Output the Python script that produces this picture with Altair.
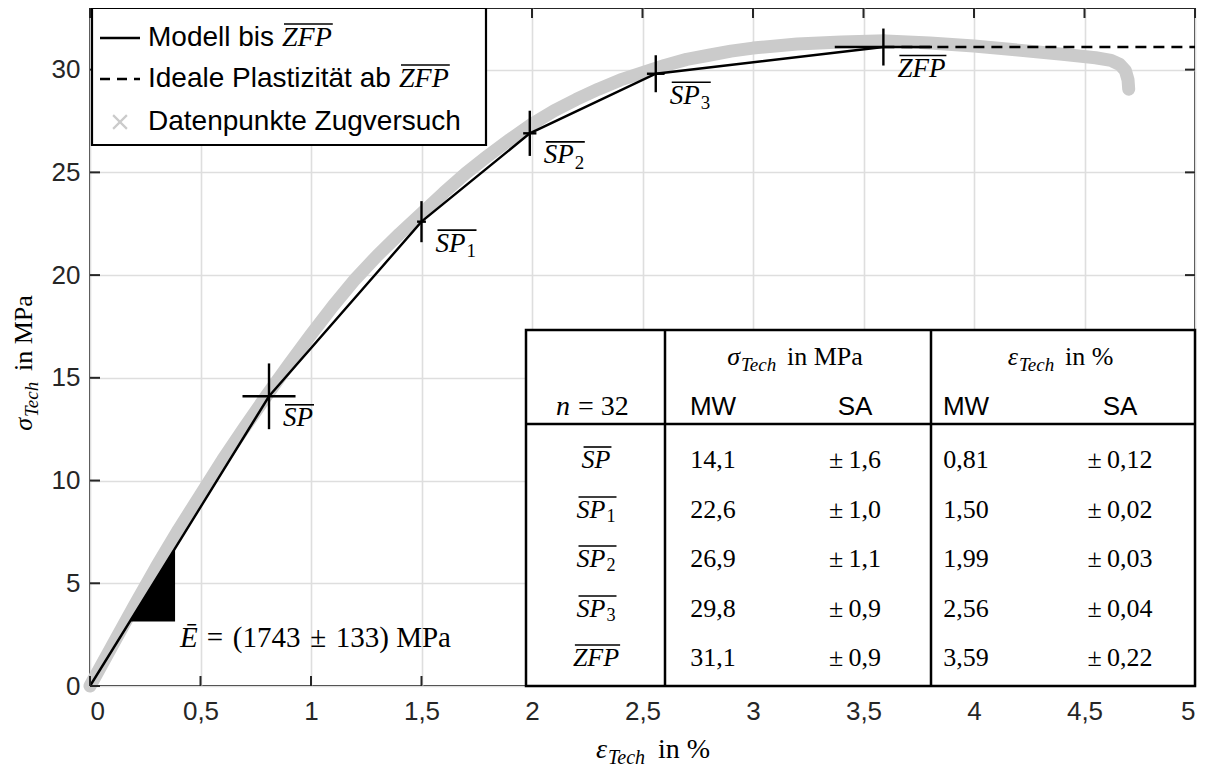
import altair as alt
import pandas as pd

# ---------------- values ----------------
# grey band: data points of the tensile tests (centre line of the band)
test_eps = [0.0, 0.1, 0.2, 0.3, 0.4, 0.5, 0.6, 0.7, 0.8, 0.9, 1.0, 1.1, 1.2, 1.3, 1.4,
            1.5, 1.6, 1.7, 1.8, 1.9, 2.0, 2.1, 2.2, 2.3, 2.4, 2.5, 2.6, 2.7, 2.8, 2.9,
            3.0, 3.2, 3.4, 3.6, 3.8, 4.0, 4.2, 4.4, 4.55, 4.62, 4.66, 4.685, 4.697, 4.70]
test_sig = [0.0, 1.95, 3.9, 5.8, 7.6, 9.3, 11.0, 12.6, 14.15, 15.65, 17.1, 18.5, 19.8, 20.95, 22.0,
            23.0, 24.0, 24.95, 25.8, 26.6, 27.35, 28.0, 28.55, 29.05, 29.5, 29.85, 30.2, 30.5, 30.7, 30.9,
            31.05, 31.25, 31.35, 31.4, 31.3, 31.15, 30.95, 30.75, 30.58, 30.45, 30.25, 29.95, 29.5, 29.05]

# support points of the model (mean values and standard deviations, n = 32)
pt_main = ["SP", "SP", "SP", "SP", "ZFP"]
pt_sub = ["", "1", "2", "3", ""]
sig_mw = [14.1, 22.6, 26.9, 29.8, 31.1]
sig_sa = [1.6, 1.0, 1.1, 0.9, 0.9]
eps_mw = [0.81, 1.50, 1.99, 2.56, 3.59]
eps_sa = [0.12, 0.02, 0.03, 0.04, 0.22]
n_tests = 32

# mean Young's modulus in MPa and its standard deviation
E_mean = 1743
E_sa = 133
tri_eps = [0.18, 0.385]

x_ticks = [0, 0.5, 1, 1.5, 2, 2.5, 3, 3.5, 4, 4.5, 5]
y_ticks = [0, 5, 10, 15, 20, 25, 30]
x_max = 5
y_max = 33

legend_texts = ["Modell bis", "Ideale Plastizit\u00e4t ab", "Datenpunkte Zugversuch"]

# ---------------- styling ----------------
SANS = "Liberation Sans"
SERIF = "Liberation Serif"
AX = "#262626"
GREY = "#cbcbcb"
W, H = 1105, 678

# approximate advance widths (em) of Liberation Serif Italic capitals used in labels
IT_W = {"S": 0.5, "P": 0.611, "Z": 0.556, "F": 0.611}


def it_width(s, size):
    return sum(IT_W[c] for c in s) * size


XS = alt.Scale(domain=[0, x_max], nice=False, zero=False)
YS = alt.Scale(domain=[0, y_max], nice=False, zero=False)
XA = alt.Axis(values=x_ticks, format="~g", labelExpr="replace(datum.label, '.', ',')",
              title=None, ticks=False, domain=False, grid=True, gridColor="#dedede",
              gridWidth=1.6, labelFont=SANS, labelFontSize=26, labelColor=AX, labelPadding=12)
YA = alt.Axis(values=y_ticks, title=None, ticks=False, domain=False, grid=True,
              gridColor="#dedede", gridWidth=1.6, labelFont=SANS, labelFontSize=26,
              labelColor=AX, labelPadding=10)


def X(f):
    return alt.X(f"{f}:Q", scale=XS, axis=XA)


def Y(f):
    return alt.Y(f"{f}:Q", scale=YS, axis=YA)


def PX():
    return alt.X("px:Q", scale=None, axis=None)


def PY():
    return alt.Y("py:Q", scale=None, axis=None)


def fmt(v, d):
    return f"{v:.{d}f}".replace(".", ",")


def ptext(px, py, t, **kw):
    base = dict(color="black", baseline="middle", align="left")
    base.update(kw)
    return alt.Chart(pd.DataFrame({"px": [px], "py": [py], "t": [t]})).mark_text(**base).encode(
        x=PX(), y=PY(), text="t:N")


def prule(px, py, px2, py2, **kw):
    base = dict(color="black", strokeWidth=1.6)
    base.update(kw)
    return alt.Chart(pd.DataFrame({"px": [px], "py": [py], "px2": [px2], "py2": [py2]})).mark_rule(
        **base).encode(x=PX(), y=PY(), x2="px2:Q", y2="py2:Q")


def overlined(x0, y, main, sub, size=26):
    """italic label with overline (and optional upright subscript), left edge x0, middle y"""
    out = []
    wm = it_width(main, size)
    out.append(ptext(x0, y, main, font=SERIF, fontStyle="italic", fontSize=size))
    ws = 0
    if sub:
        ws = 0.5 * (size * 0.7) + 1
        out.append(ptext(x0 + wm + 1, y + 0.28 * size, sub, font=SERIF, fontSize=size * 0.7))
    oy = y - 0.5 * size
    out.append(prule(x0 + 2, oy, x0 + wm + ws + 1, oy))
    return out


# ---------------- data frames ----------------
band_df = pd.DataFrame({"x": test_eps, "y": test_sig, "o": range(len(test_eps))})
model_df = pd.DataFrame({"x": [0.0] + eps_mw, "y": [0.0] + sig_mw, "o": range(len(eps_mw) + 1)})
plast_df = pd.DataFrame({"x": [eps_mw[-1], x_max], "y": [sig_mw[-1], sig_mw[-1]]})
LS = 27  # label font size of the support points
pts_df = pd.DataFrame({
    "x": eps_mw, "y": sig_mw, "main": pt_main, "sub": pt_sub,
    "xl": [e - s for e, s in zip(eps_mw, eps_sa)], "xh": [e + s for e, s in zip(eps_mw, eps_sa)],
    "yl": [m - s for m, s in zip(sig_mw, sig_sa)], "yh": [m + s for m, s in zip(sig_mw, sig_sa)],
})
pts_df["ow"] = [round(it_width(m, LS) + (0.5 * LS * 0.7 + 1 if s else 0)) for m, s in zip(pt_main, pt_sub)]
slope = E_mean / 100.0
tri_df = pd.DataFrame({"x": tri_eps, "y": [slope * e for e in tri_eps],
                       "y2": [slope * tri_eps[0]] * len(tri_eps)})
tick_len_x = 10 / W * x_max
tick_len_y = 10 / H * y_max
xt_df = pd.DataFrame({"x": x_ticks})
yt_df = pd.DataFrame({"y": y_ticks})

layers = []

# grey band (data points)
layers.append(alt.Chart(band_df).mark_line(color=GREY, strokeWidth=13, strokeCap="round",
                                           strokeJoin="round").encode(x=X("x"), y=Y("y"), order="o:Q"))
# model line and ideal plasticity
layers.append(alt.Chart(model_df).mark_line(color="black", strokeWidth=2.4).encode(
    x=X("x"), y=Y("y"), order="o:Q"))
layers.append(alt.Chart(plast_df).mark_line(color="black", strokeWidth=2.4, strokeDash=[11, 7]).encode(
    x=X("x"), y=Y("y")))
# error crosses
layers.append(alt.Chart(pts_df).mark_rule(color="black", strokeWidth=2.4).encode(
    x=X("xl"), x2="xh:Q", y=Y("y")))
layers.append(alt.Chart(pts_df).mark_rule(color="black", strokeWidth=2.4).encode(
    x=X("x"), y=Y("yl"), y2="yh:Q"))
# labels of the support points (italic name, upright subscript, overline)
DX, DY = 14, 22
layers.append(alt.Chart(pts_df).mark_text(font=SERIF, fontStyle="italic", fontSize=LS, align="left",
                                          baseline="middle", dx=DX, dy=DY, color="black").encode(
    x=X("x"), y=Y("y"), text="main:N"))
layers.append(alt.Chart(pts_df).mark_text(font=SERIF, fontSize=LS * 0.7, align="left", baseline="middle",
                                          dx=DX + it_width("SP", LS) + 1, dy=DY + 0.28 * LS,
                                          color="black").encode(x=X("x"), y=Y("y"), text="sub:N"))
for ow in sorted(set(pts_df["ow"])):
    layers.append(alt.Chart(pts_df).transform_filter(f"datum.ow == {ow}").mark_rule(
        color="black", strokeWidth=1.6, xOffset=DX + 2, x2Offset=DX + ow + 1,
        yOffset=DY - 0.5 * LS, y2Offset=DY - 0.5 * LS).encode(
        x=X("x"), x2="x:Q", y=Y("y"), y2="y:Q"))
# slope triangle
layers.append(alt.Chart(tri_df).mark_area(color="black", opacity=1).encode(
    x=X("x"), y=Y("y"), y2="y2:Q"))
ES = 29
e_df = pd.DataFrame({"x": [tri_eps[-1]], "y": [slope * tri_eps[0]],
                     "e": ["\u0112"],
                     "t": [f"=\u2004({E_mean}\u2004\u00b1\u2004{E_sa})\u00a0MPa"]})
layers.append(alt.Chart(e_df).mark_text(font=SERIF, fontStyle="italic", fontSize=ES, align="left",
                                        baseline="top", dx=5, dy=2, color="black").encode(
    x=X("x"), y=Y("y"), text="e:N"))
layers.append(alt.Chart(e_df).mark_text(font=SERIF, fontSize=ES, align="left", baseline="top",
                                        dx=5 + 0.611 * ES + 9, dy=2, color="black").encode(
    x=X("x"), y=Y("y"), text="t:N"))

# inward ticks on all four sides
tk = dict(color=AX, strokeWidth=2)
layers.append(alt.Chart(xt_df).transform_calculate(a="0", b=str(tick_len_y)).mark_rule(**tk).encode(
    x=X("x"), y=Y("a"), y2="b:Q"))
layers.append(alt.Chart(xt_df).transform_calculate(a=str(y_max), b=str(y_max - tick_len_y)).mark_rule(**tk).encode(
    x=X("x"), y=Y("a"), y2="b:Q"))
layers.append(alt.Chart(yt_df).transform_calculate(a="0", b=str(tick_len_x)).mark_rule(**tk).encode(
    y=Y("y"), x=X("a"), x2="b:Q"))
layers.append(alt.Chart(yt_df).transform_calculate(a=str(x_max), b=str(x_max - tick_len_x)).mark_rule(**tk).encode(
    y=Y("y"), x=X("a"), x2="b:Q"))

# ---------------- table (pixel layout inside the plot area) ----------------
T_L, T_C1, T_C2, T_R = 436, 575, 841, 1105
T_T, T_HS, T_B = 322, 416, 678
row_y = [452, 502, 551, 601, 650]
col_x = [506, 623, 765, 876, 1030]
head1_y, head2_y = 348, 399

layers.append(alt.Chart(pd.DataFrame({"px": [T_L], "py": [T_T], "px2": [T_R], "py2": [T_B]})).mark_rect(
    fill="white", stroke="black", strokeWidth=2.5).encode(x=PX(), y=PY(), x2="px2:Q", y2="py2:Q"))
layers.append(prule(T_C1, T_T, T_C1, T_B, strokeWidth=2.5))
layers.append(prule(T_C2, T_T, T_C2, T_B, strokeWidth=2.5))
layers.append(prule(T_L, T_HS, T_R, T_HS, strokeWidth=2.5))

cells = []
for i in range(len(pt_main)):
    cells.append((col_x[1], row_y[i], fmt(sig_mw[i], 1)))
    cells.append((col_x[2], row_y[i], "\u00b1\u2009" + fmt(sig_sa[i], 1)))
    cells.append((col_x[3], row_y[i], fmt(eps_mw[i], 2)))
    cells.append((col_x[4], row_y[i], "\u00b1\u2009" + fmt(eps_sa[i], 2)))
cells_df = pd.DataFrame(cells, columns=["px", "py", "t"])
layers.append(alt.Chart(cells_df).mark_text(font=SERIF, fontSize=26, align="center", baseline="middle",
                                            color="black").encode(x=PX(), y=PY(), text="t:N"))
for i in range(len(pt_main)):
    wtot = it_width(pt_main[i], 26) + (0.5 * 26 * 0.7 + 1 if pt_sub[i] else 0)
    layers += overlined(col_x[0] - wtot / 2, row_y[i], pt_main[i], pt_sub[i], size=26)
hd_df = pd.DataFrame({"px": [col_x[1], col_x[2], col_x[3], col_x[4]], "py": [head2_y] * 4,
                      "t": ["MW", "SA", "MW", "SA"]})
layers.append(alt.Chart(hd_df).mark_text(font=SANS, fontSize=26, align="center", baseline="middle",
                                         color="black").encode(x=PX(), y=PY(), text="t:N"))
layers.append(ptext(466, head2_y, "n", font=SERIF, fontStyle="italic", fontSize=28))
layers.append(ptext(488, head2_y, f"= {n_tests}", font=SERIF, fontSize=28))


def composed(cx, cy, sym, rest, size=26, sub_size=19, tech_w=38, angle=0):
    """symbol (italic) + subscript 'Tech' (italic) + rest (upright); anchor between symbol and subscript"""
    out = []
    if angle == 0:
        out.append(ptext(cx, cy, sym, font=SERIF, fontStyle="italic", fontSize=size, align="right",
                         baseline="alphabetic"))
        out.append(ptext(cx + 1, cy + 6, "Tech", font=SERIF, fontStyle="italic", fontSize=sub_size,
                         baseline="alphabetic"))
        out.append(ptext(cx + 1 + tech_w, cy, rest, font=SERIF, fontSize=size, baseline="alphabetic"))
    else:
        out.append(ptext(cx, cy, sym, font=SERIF, fontStyle="italic", fontSize=size, align="right",
                         baseline="alphabetic", angle=270))
        out.append(ptext(cx + 6, cy - 1, "Tech", font=SERIF, fontStyle="italic", fontSize=sub_size,
                         baseline="alphabetic", angle=270))
        out.append(ptext(cx, cy - 1 - tech_w, rest, font=SERIF, fontSize=size, baseline="alphabetic",
                         angle=270))
    return out


layers += composed(650, head1_y + 9, "\u03c3", "in\u00a0MPa", tech_w=46)
layers += composed(928, head1_y + 9, "\u03b5", "in\u00a0%", tech_w=46)

# axis titles
layers += composed(517, 750, "\u03b5", "in\u00a0%", size=28, sub_size=20, tech_w=50)
layers += composed(-58, 410, "\u03c3", "in\u00a0MPa", size=26, sub_size=19, tech_w=46, angle=270)

# ---------------- legend ----------------
layers.append(alt.Chart(pd.DataFrame({"px": [2], "py": [0], "px2": [396], "py2": [137]})).mark_rect(
    fill="white", stroke="black", strokeWidth=2.2).encode(x=PX(), y=PY(), x2="px2:Q", y2="py2:Q"))
layers.append(prule(10, 30, 50, 30, strokeWidth=2.4))
layers.append(prule(10, 71, 50, 71, strokeWidth=2.4, strokeDash=[10, 7]))
layers.append(alt.Chart(pd.DataFrame({"px": [30], "py": [114]})).mark_point(
    shape="M-1,-1L1,1M-1,1L1,-1", size=190, color=GREY, filled=False, strokeWidth=2.2,
    opacity=1).encode(x=PX(), y=PY()))
leg_df = pd.DataFrame({"px": [58] * 3, "py": [30, 71, 114], "t": legend_texts})
layers.append(alt.Chart(leg_df).mark_text(font=SANS, fontSize=28, align="left", baseline="middle",
                                          color="black").encode(x=PX(), y=PY(), text="t:N"))
layers += overlined(192, 30, "ZFP", "", size=28)
layers += overlined(309, 71, "ZFP", "", size=28)

chart = alt.layer(*layers).properties(
    width=W, height=H, autosize="none",
    padding={"left": 82, "top": 0, "right": 7, "bottom": 83},
    background="white",
).configure_view(stroke=AX, strokeWidth=2)

chart.save("out.html", embed_options={"renderer": "svg", "actions": False})
